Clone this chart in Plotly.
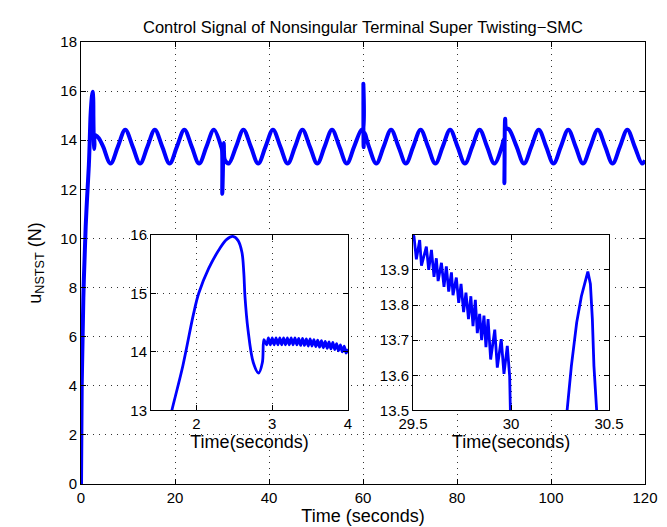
import plotly.graph_objects as go

# main signal (time in s, control in N)
t_main = [0, 0.15, 0.5, 1.0, 1.28, 1.675, 1.82, 1.96, 2.03, 2.16, 2.31, 2.48, 2.60, 2.64, 2.68,
          2.75, 2.82, 2.87, 2.89, 3.14, 3.8, 4.71, 6.28, 7.85, 9.42, 11.0, 12.57, 14.14, 15.71,
          17.28, 18.85, 20.42, 21.99, 23.56, 25.13, 26.70, 28.27, 29.85, 30.0, 30.06, 30.29,
          30.39, 30.43, 30.6, 31.42, 33.0, 34.56, 36.13, 37.70, 39.27, 40.84, 42.41, 43.98,
          45.55, 47.12, 48.69, 50.27, 51.84, 53.41, 54.98, 56.55, 58.12, 59.69, 60.02, 60.08,
          60.14, 60.3, 61.26, 62.83, 64.40, 65.97, 67.54, 69.12, 70.69, 72.26, 73.83, 75.40,
          76.97, 78.54, 80.11, 81.68, 83.25, 84.82, 86.39, 87.96, 89.54, 90.0, 90.08, 90.25,
          90.45, 91.11, 92.68, 94.25, 95.82, 97.39, 98.96, 100.53, 102.10, 103.67, 105.24,
          106.81, 108.38, 109.96, 111.53, 113.10, 114.67, 116.24, 117.81, 119.38, 120.0]
u_main = [0, 4.0, 7.6, 10.5, 11.6, 13.0, 13.76, 14.64, 15.0, 15.42, 15.77, 15.97, 15.7, 14.95, 14.38,
          13.82, 13.64, 13.82, 14.2, 14.2, 14.08, 13.74, 13.05, 13.74, 14.43, 13.74, 13.05, 13.74, 14.43,
          13.74, 13.05, 13.74, 14.43, 13.74, 13.05, 13.74, 14.43, 13.72, 13.6, 11.82, 13.5,
          13.89, 13.5, 13.2, 13.05, 13.74, 14.43, 13.74, 13.05, 13.74, 14.43, 13.74, 13.05,
          13.74, 14.43, 13.74, 13.05, 13.74, 14.43, 13.74, 13.05, 13.74, 14.43, 14.38, 16.3,
          13.72, 14.3, 13.74, 13.05, 13.74, 14.43, 13.74, 13.05, 13.74, 14.43, 13.74, 13.05,
          13.74, 14.43, 13.74, 13.05, 13.74, 14.43, 13.74, 13.05, 13.74, 14.05, 12.25, 14.87,
          14.5, 14.43, 13.74, 13.05, 13.74, 14.43, 13.74, 13.05, 13.74, 14.43, 13.74,
          13.05, 13.74, 14.43, 13.74, 13.05, 13.74, 14.43, 13.74, 13.05, 13.18]

# zoom 1: start-up transient
t_in1 = [1.55, 1.675, 1.82, 1.96, 2.03, 2.16, 2.31, 2.40, 2.48, 2.55, 2.60, 2.625, 2.64, 2.68,
         2.75, 2.82, 2.87, 2.89,
         2.925, 2.950, 2.975, 3.000, 3.025, 3.050, 3.075, 3.100, 3.125, 3.150, 3.175, 3.200,
         3.225, 3.250, 3.275, 3.300, 3.325, 3.350, 3.375, 3.400, 3.425, 3.450, 3.475, 3.500,
         3.525, 3.550, 3.575, 3.600, 3.625, 3.650, 3.675, 3.700, 3.725, 3.750, 3.775, 3.800,
         3.825, 3.850, 3.875, 3.900, 3.925, 3.950, 3.975, 4.000]
u_in1 = [12.3, 13.0, 13.76, 14.64, 15.0, 15.42, 15.77, 15.92, 15.97, 15.9, 15.7, 15.35, 14.95, 14.38,
         13.82, 13.64, 13.82, 14.21,
         14.12, 14.24, 14.12, 14.24, 14.12, 14.24, 14.12, 14.24, 14.12, 14.24, 14.12, 14.24,
         14.12, 14.24, 14.12, 14.24, 14.12, 14.23, 14.11, 14.23, 14.11, 14.22, 14.10, 14.22,
         14.10, 14.21, 14.09, 14.20, 14.08, 14.19, 14.07, 14.18, 14.06, 14.17, 14.05, 14.16,
         14.04, 14.14, 14.02, 14.12, 14.00, 14.10, 13.98, 14.05]

# zoom 2: around the disturbance at 30 s
t_in2 = [29.500, 29.505, 29.517, 29.534, 29.543, 29.568, 29.580, 29.594, 29.607, 29.619, 29.628,
         29.645, 29.658, 29.670, 29.682, 29.696, 29.704, 29.721, 29.733, 29.745, 29.758, 29.770,
         29.783, 29.795, 29.806, 29.818, 29.828, 29.840, 29.850, 29.862, 29.872, 29.883, 29.896,
         29.917, 29.930, 29.950, 29.964, 29.981, 29.993, 30.000, 30.06, 30.20, 30.286, 30.308,
         30.335, 30.359, 30.380, 30.392, 30.405, 30.415, 30.423, 30.432, 30.47]
u_in2 = [14.000, 13.995, 13.930, 13.985, 13.912, 13.966, 13.900, 13.957, 13.880, 13.933, 13.868,
         13.920, 13.852, 13.910, 13.838, 13.893, 13.828, 13.878, 13.806, 13.860, 13.780, 13.835,
         13.760, 13.825, 13.740, 13.815, 13.720, 13.775, 13.700, 13.770, 13.680, 13.760, 13.645,
         13.730, 13.622, 13.703, 13.604, 13.684, 13.598, 13.40, 11.82, 12.80, 13.500, 13.627,
         13.750, 13.825, 13.875, 13.895, 13.860, 13.760, 13.627, 13.500, 13.20]

x_ticks = [0, 20, 40, 60, 80, 100, 120]
y_ticks = [0, 2, 4, 6, 8, 10, 12, 14, 16, 18]
x1_ticks = [2, 3, 4]
y1_ticks = [13, 14, 15, 16]
x2_ticks = [29.5, 30, 30.5]
x2_text = ["29.5", "30", "30.5"]
y2_ticks = [13.5, 13.6, 13.7, 13.8, 13.9]

blue = "rgb(0,0,255)"
font = dict(family="Liberation Sans, Arial, sans-serif", size=15, color="black")

fig = go.Figure()
fig.add_trace(go.Scatter(x=t_main, y=u_main, mode="lines", line=dict(color=blue, width=4, shape="spline"),
                         xaxis="x", yaxis="y"))
fig.add_trace(go.Scatter(x=t_in1, y=u_in1, mode="lines", line=dict(color=blue, width=2.8, shape="spline"),
                         xaxis="x2", yaxis="y2"))
fig.add_trace(go.Scatter(x=t_in2, y=u_in2, mode="lines", line=dict(color=blue, width=2.8),
                         xaxis="x3", yaxis="y3"))

ax = dict(showline=True, linecolor="black", linewidth=1, mirror="ticks", ticks="inside", ticklen=5,
          tickcolor="black", showgrid=True, gridcolor="rgb(50,50,50)", griddash="1px,5px", gridwidth=1,
          zeroline=False, tickfont=font)

fig.update_layout(
    width=667, height=527,
    margin=dict(l=73, r=30, t=34, b=48),
    paper_bgcolor="white", plot_bgcolor="white",
    showlegend=False,
    font=font,
    title=dict(text="Control Signal of Nonsingular Terminal Super Twisting\u2212SMC",
               x=0.5, xref="paper", xanchor="center", y=0.963, yanchor="middle",
               font=dict(family=font["family"], size=16.5, color="black")),
    xaxis=dict(ax, domain=[0, 1], anchor="y", range=[0, 120], tickvals=x_ticks,
               title=dict(text="Time (seconds)", standoff=4)),
    yaxis=dict(ax, domain=[0, 1], anchor="x", range=[0, 18], tickvals=y_ticks,
               title=dict(text="u<sub>NSTST</sub> (N)", standoff=14)),
    xaxis2=dict(ax, domain=[0.1241, 0.4734], anchor="y2", range=[1.4, 4], tickvals=x1_ticks,
                title=dict(text="Time(seconds)", standoff=2)),
    yaxis2=dict(ax, domain=[0.1663, 0.5640], anchor="x2", range=[13, 16], tickvals=y1_ticks),
    xaxis3=dict(ax, domain=[0.5887, 0.9362], anchor="y3", range=[29.5, 30.5], tickvals=x2_ticks,
                ticktext=x2_text, title=dict(text="Time(seconds)", standoff=2)),
    yaxis3=dict(ax, domain=[0.1663, 0.5640], anchor="x3", range=[13.5, 14.0], tickvals=y2_ticks),
)

fig.write_html("out.html")
